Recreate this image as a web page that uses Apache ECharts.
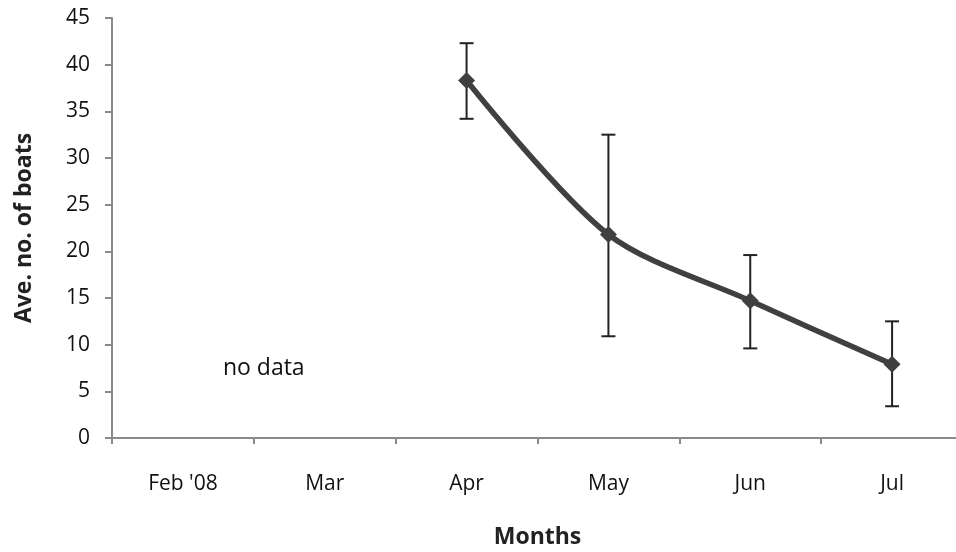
<!DOCTYPE html>
<html>
<head>
<meta charset="utf-8">
<script src="https://cdn.jsdelivr.net/npm/echarts@6/dist/echarts.min.js"></script>
<style>
  html, body { margin: 0; padding: 0; background: #fff; overflow: hidden; }
  #chart { width: 956px; height: 552px; }
</style>
</head>
<body>
<div id="chart"></div>
<script>
// Monthly average number of boats, with error ranges
const months = ["Feb '08", "Mar", "Apr", "May", "Jun", "Jul"];
const avgBoats = [null, null, 38.3, 21.8, 14.7, 7.9];
const errLow = [null, null, 34.2, 10.9, 9.6, 3.4];
const errHigh = [null, null, 42.3, 32.5, 19.6, 12.5];
const yTicks = [0, 5, 10, 15, 20, 25, 30, 35, 40, 45];

const FONT = "'Open Sans', 'Liberation Sans', sans-serif";
const chart = echarts.init(document.getElementById('chart'));

const errData = months.map((m, i) => [i, errLow[i], errHigh[i]]).filter(d => d[1] != null);

chart.setOption({
  animation: false,
  // the plot runs slightly past the right edge of the canvas
  grid: { left: 112, right: -7, top: 18, bottom: 114, outerBoundsMode: 'none', containLabel: false },
  xAxis: {
    type: 'category',
    data: months,
    boundaryGap: true,
    name: 'Months',
    nameLocation: 'middle',
    nameGap: 88,
    nameTextStyle: { fontFamily: FONT, fontSize: 23, fontWeight: 'bold', color: '#222', padding: [0, 0, 0, 0] },
    axisLine: { lineStyle: { color: '#8a8a8a', width: 2 } },
    axisTick: { show: true, length: 6, lineStyle: { color: '#8a8a8a', width: 2 } },
    axisLabel: { margin: 36, fontFamily: FONT, fontSize: 21, color: '#111' },
    splitLine: { show: false }
  },
  yAxis: {
    type: 'value',
    min: yTicks[0],
    max: yTicks[yTicks.length - 1],
    interval: 5,
    name: 'Ave. no. of boats',
    nameLocation: 'middle',
    nameGap: 76,
    nameTextStyle: { fontFamily: FONT, fontSize: 23, fontWeight: 'bold', color: '#222' },
    axisLine: { show: true, lineStyle: { color: '#8a8a8a', width: 2 } },
    axisTick: { show: true, length: 7, lineStyle: { color: '#8a8a8a', width: 2 } },
    axisLabel: { margin: 22, fontFamily: FONT, fontSize: 21, color: '#111' },
    splitLine: { show: false }
  },
  series: [
    {
      type: 'custom',
      data: errData,
      z: 1,
      renderItem: function (params, api) {
        const x = api.coord([api.value(0), api.value(1)])[0];
        const yLo = api.coord([api.value(0), api.value(1)])[1];
        const yHi = api.coord([api.value(0), api.value(2)])[1];
        const cap = 7;
        const style = { stroke: '#222', lineWidth: 2 };
        return {
          type: 'group',
          children: [
            { type: 'line', shape: { x1: x, y1: yLo, x2: x, y2: yHi }, style },
            { type: 'line', shape: { x1: x - cap, y1: yHi, x2: x + cap, y2: yHi }, style },
            { type: 'line', shape: { x1: x - cap, y1: yLo, x2: x + cap, y2: yLo }, style }
          ]
        };
      }
    },
    {
      type: 'line',
      data: avgBoats,
      z: 3,
      smooth: 0.3,
      connectNulls: false,
      symbol: 'diamond',
      symbolSize: 17,
      lineStyle: { color: '#404040', width: 5.5 },
      itemStyle: { color: '#404040' }
    }
  ]
});

// "no data" note placed over the empty Feb–Mar months
const pFeb = chart.convertToPixel({ xAxisIndex: 0, yAxisIndex: 0 }, [0, 7.5]);
const pMar = chart.convertToPixel({ xAxisIndex: 0, yAxisIndex: 0 }, [1, 7.5]);
chart.setOption({
  graphic: [{
    type: 'text',
    x: pFeb[0] + (pMar[0] - pFeb[0]) * 0.57,
    y: pFeb[1],
    style: {
      text: 'no data',
      fontFamily: FONT,
      fontSize: 23,
      fill: '#111',
      textAlign: 'center',
      textVerticalAlign: 'middle'
    }
  }]
});
</script>
</body>
</html>
